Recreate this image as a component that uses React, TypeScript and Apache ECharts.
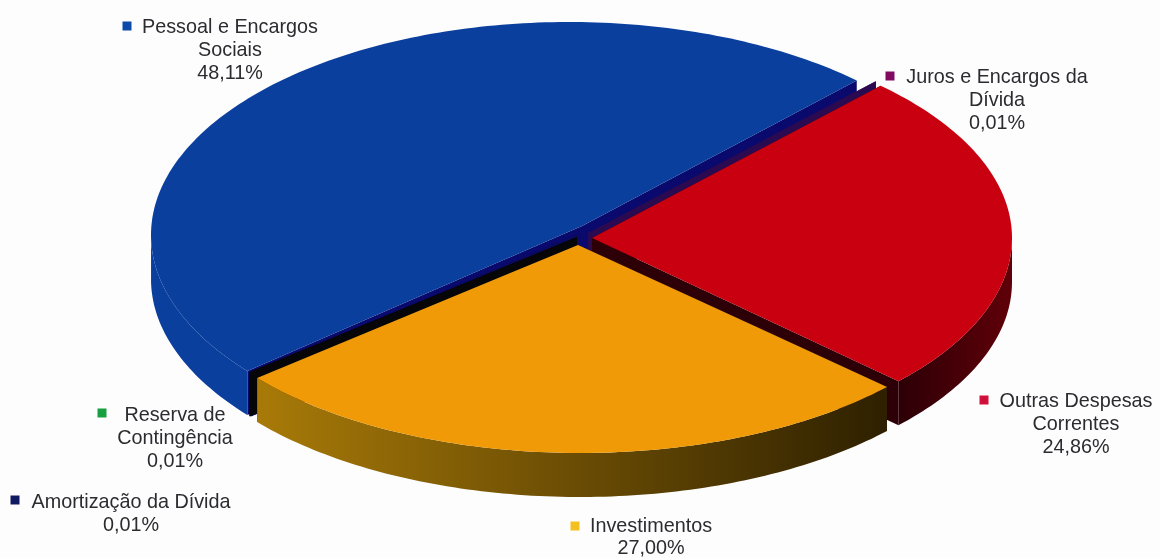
import React, { useEffect, useRef } from "react";
import * as echarts from "echarts";

const categories = ["Pessoal e Encargos\nSociais", "Reserva de\nContingência", "Amortização da Dívida", "Investimentos", "Outras Despesas\nCorrentes", "Juros e Encargos da\nDívida"];
const shares = [48.11, 0.01, 0.01, 27.0, 24.86, 0.01];
const paintOrder = [0, 2, 1, 5, 4, 3];

const START = 46.5;
const DEPTH = 44;
const topColors = ["#0a3f9e", "#0c0c10", "#0a0a60", "#f09a08", "#c80010", "#4a0a4a"];
const markerColors = ["#0b4aa8", "#18a040", "#101a60", "#f4c020", "#d0103a", "#800a60"];
const wallColors = ["#0a0a6e", "#060608", "#0a0a60", "#2a1c00", "#2c0006", "#2a0a50"];
const rimStops: string[][] = [
  ["#0a3f9e", "#0a3f9e"],
  ["#060608", "#060608"],
  ["#0a0a60", "#0a0a60"],
  ["#a87a08", "#2e2000"],
  ["#2c0006", "#600008"],
  ["#3a0a50", "#3a0a50"],
];
// apex x,y ; ellipse centre x,y ; radii
const geometry = [
  { ax: 582, ay: 226, ex: 569, ey: 235, rx: 418, ry: 213 },
  { ax: 577, ay: 237, ex: 571, ey: 238, rx: 418, ry: 210 },
  { ax: 580, ay: 233, ex: 572, ey: 237, rx: 418, ry: 212 },
  { ax: 578, ay: 245, ex: 580, ey: 245, rx: 420, ry: 208 },
  { ax: 592, ay: 238, ex: 590, ey: 238, rx: 422, ry: 210 },
  { ax: 588, ay: 233, ex: 588, ey: 230, rx: 418, ry: 205 },
];
const labelPos = [
  { x: 230, y: 14, lh: 23, mx: 127, my: 26 },
  { x: 175, y: 402, lh: 23, mx: 102, my: 413 },
  { x: 131, y: 489, lh: 23, mx: 15, my: 500 },
  { x: 651, y: 514, lh: 22, mx: 575, my: 526 },
  { x: 1076, y: 388, lh: 23, mx: 984, my: 400 },
  { x: 997, y: 64, lh: 23, mx: 890, my: 76 },
];

const total = shares.reduce((a, b) => a + b, 0);
const rad = (d: number) => (d * Math.PI) / 180;
const sliceAngles = (i: number) => {
  const before = shares.slice(0, i).reduce((a, b) => a + b, 0);
  return [START + (before / total) * 360, START + ((before + shares[i]) / total) * 360];
};
const rimPoint = (g: any, t: number) => [
  g.ex + g.rx * Math.cos(rad(t)),
  g.ey - g.ry * Math.sin(rad(t)),
];

const renderSlice = (_params: any, api: any) => {
  const i = api.value(0);
  const g = geometry[i];
  const [a, b] = sliceAngles(i);
  const arc: number[][] = [];
  const front: number[][] = [];
  const n = Math.max(1, Math.ceil(b - a));
  for (let k = 0; k <= n; k++) {
    const t = a + ((b - a) * k) / n;
    arc.push(rimPoint(g, t));
    if (Math.sin(rad(t)) <= 0) front.push(rimPoint(g, t));
  }
  const down = (p: number[]) => [p[0], p[1] + DEPTH];
  const apex = [g.ax, g.ay];
  const first = arc[0];
  const last = arc[arc.length - 1];
  const poly = (points: number[][], fill: any) => ({ type: "polygon", shape: { points }, style: { fill } });
  const rim = front.length > 1
    ? [poly([...front, ...front.slice().reverse().map(down)], new echarts.graphic.LinearGradient(0, 0, 1, 0, [
        { offset: 0, color: rimStops[i][0] },
        { offset: 1, color: rimStops[i][1] },
      ]))]
    : [];
  return {
    type: "group",
    children: [
      poly([apex, first, down(first), down(apex)], wallColors[i]),
      poly([apex, last, down(last), down(apex)], wallColors[i]),
      ...rim,
      poly([apex, ...arc], topColors[i]),
    ],
  };
};

const labelText = (i: number) => `${categories[i]}\n${shares[i].toFixed(2).replace(".", ",")}%`;

export default function App() {
  const ref = useRef<HTMLDivElement>(null);
  useEffect(() => {
    document.body.style.margin = "0";
    const chart = echarts.init(ref.current!, undefined, { renderer: "svg" });
    chart.setOption({
      animation: false,
      backgroundColor: "#fdfdfe",
      series: [
        {
          type: "custom",
          coordinateSystem: "none",
          renderItem: renderSlice,
          data: paintOrder.map((i) => [i, shares[i]]),
          silent: true,
        },
      ],
      graphic: categories.flatMap((_c, i) => [
        {
          type: "text",
          x: labelPos[i].x,
          y: labelPos[i].y,
          style: {
            text: labelText(i),
            fill: "#2c2c30",
            font: "19.8px 'Liberation Sans'",
            lineHeight: labelPos[i].lh,
            align: "center",
            verticalAlign: "top",
          },
        },
        {
          type: "rect",
          shape: { x: labelPos[i].mx - 4.5, y: labelPos[i].my - 4.5, width: 9, height: 9 },
          style: { fill: markerColors[i] },
        },
      ]),
    });
    return () => chart.dispose();
  }, []);
  return <div ref={ref} style={{ width: 1160, height: 558, filter: "blur(0.6px)" }} />;
}
